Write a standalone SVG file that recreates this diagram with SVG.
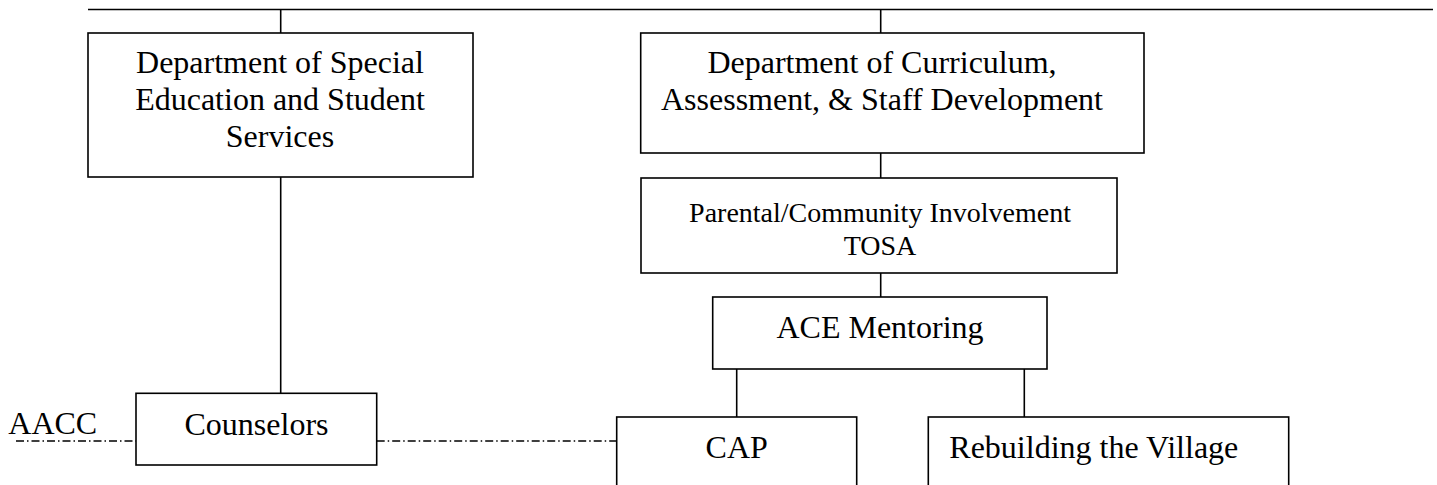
<svg xmlns="http://www.w3.org/2000/svg" width="1437" height="485" viewBox="0 0 1437 485">
<style>
.box{fill:#fff;stroke:#000;stroke-width:1.6}
.ln{stroke:#000;stroke-width:1.6;fill:none}
.dd{stroke:#000;stroke-width:1.4;fill:none;stroke-dasharray:8 3 1.5 3}
text{font-family:"Liberation Serif","Times New Roman",serif;font-size:32px;fill:#000}
.c{text-anchor:middle}
.s{font-size:28px}
</style>
<rect width="1437" height="485" fill="#fff"/>
<g id="connectors">
<line class="ln" x1="88" y1="9.5" x2="1433" y2="9.5"/>
<line class="ln" x1="280.7" y1="9.5" x2="280.7" y2="33"/>
<line class="ln" x1="880.7" y1="9.5" x2="880.7" y2="33"/>
<line class="ln" x1="280.7" y1="177" x2="280.7" y2="393.3"/>
<line class="ln" x1="880.7" y1="153" x2="880.7" y2="178"/>
<line class="ln" x1="880.7" y1="273" x2="880.7" y2="297"/>
<line class="ln" x1="736.7" y1="369" x2="736.7" y2="417"/>
<line class="ln" x1="1024.3" y1="369" x2="1024.3" y2="417"/>
<line class="dd" x1="16" y1="441" x2="136" y2="441"/>
<line class="dd" x1="376.7" y1="441" x2="616.7" y2="441"/>
</g>
<g id="special-ed">
<rect class="box" x="88" y="33" width="385" height="144"/>
<text class="c" x="280" y="73.3">Department of Special</text>
<text class="c" x="280" y="110">Education and Student</text>
<text class="c" x="280" y="146.7">Services</text>
</g>
<g id="curriculum">
<rect class="box" x="640.7" y="33" width="503.3" height="120"/>
<text class="c" x="882" y="73.3">Department of Curriculum,</text>
<text class="c" x="882" y="110">Assessment, &amp; Staff Development</text>
</g>
<g id="parental">
<rect class="box" x="641" y="178" width="476" height="95"/>
<text class="c s" x="880" y="222">Parental/Community Involvement</text>
<text class="c s" x="880" y="254.5">TOSA</text>
</g>
<g id="ace">
<rect class="box" x="712.7" y="297" width="334.3" height="72"/>
<text class="c" x="880" y="338">ACE Mentoring</text>
</g>
<g id="aacc">
<text x="8.3" y="434">AACC</text>
</g>
<g id="counselors">
<rect class="box" x="136" y="393.3" width="240.7" height="71.7"/>
<text class="c" x="256.5" y="435">Counselors</text>
</g>
<g id="cap">
<rect class="box" x="616.7" y="417" width="240" height="90"/>
<text class="c" x="736.7" y="458.3">CAP</text>
</g>
<g id="rebuilding">
<rect class="box" x="928.3" y="417" width="360.4" height="90"/>
<text x="949.3" y="458.3">Rebuilding the Village</text>
</g>
</svg>
